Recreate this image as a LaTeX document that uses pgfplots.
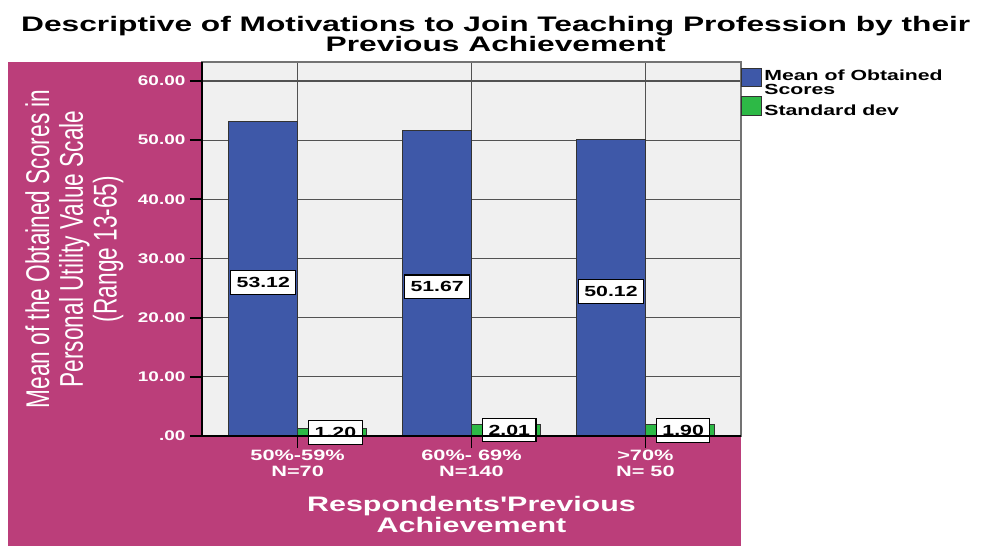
\documentclass[border=0pt]{standalone}
\usepackage{pgfplots}
\pgfplotsset{compat=1.18}
\usepackage{fontspec}
\setmainfont{Liberation Sans}
\definecolor{panel}{RGB}{187,62,122}
\definecolor{plotbg}{RGB}{240,240,240}
\definecolor{barblue}{RGB}{62,88,168}
\definecolor{bargreen}{RGB}{45,185,70}
\newcommand{\wx}[1]{\scalebox{1.45}[1]{#1}}
\newcommand{\wy}[1]{\scalebox{1.35}[1]{#1}}
\newcommand{\wt}[1]{\scalebox{1.51}[1]{#1}}
\pgfplotsset{swatch/.style={legend image code/.code={\draw[##1] (0pt,-3pt) rectangle (15pt,11pt);}}}
\begin{document}
\begin{tikzpicture}
\useasboundingbox (-151.5pt,-82.5pt) rectangle (585pt,327pt);
\fill[panel] (-145.5pt,-82.5pt) rectangle (404.25pt,280.5pt);
\begin{axis}[
  at={(0pt,0pt)}, anchor=south west,
  scale only axis, width=404.25pt, height=280.5pt,
  xmin=-0.55, xmax=2.55, ymin=0, ymax=63.2,
  xtick={0,1,2},
  xticklabels={{\wx{50\%-59\%}\\\wx{N=70}},{\wx{60\%- 69\%}\\\wx{N=140}},{\wx{>70\%}\\\wx{N= 50}}},
  ytick={0,10,20,30,40,50,60},
  yticklabels={\wy{.00},\wy{10.00},\wy{20.00},\wy{30.00},\wy{40.00},\wy{50.00},\wy{60.00}},
  xticklabel style={font=\bfseries\fontsize{11.25}{12}\selectfont, text=white, align=center, yshift=2pt},
  yticklabel style={font=\bfseries\fontsize{10.5}{12}\selectfont, text=white},
  tick pos=left, tick align=outside, major tick length=9pt,
  tick style={black, line width=1.3pt},
  xmajorgrids, ymajorgrids,
  grid style={black!68, line width=0.9pt},
  axis background/.style={fill=plotbg},
  axis line style={draw=black!55, line width=0.9pt},
  title={\wt{Descriptive of Motivations to Join Teaching Profession by their}\\\wt{Previous Achievement}},
  title style={at={(rel axis cs:0.545,1)}, anchor=south, yshift=1.5pt, inner sep=0pt,
    font=\bfseries\fontsize{15.75}{15}\selectfont, align=center},
  xlabel={\wx{Respondents\textquotesingle Previous}\\\wx{Achievement}},
  xlabel style={at={(rel axis cs:0.5,0)}, anchor=north, yshift=-45pt, inner sep=0pt,
    font=\bfseries\fontsize{15.75}{13}\selectfont, align=center, text=white},
  ylabel={\scalebox{1}[1.45]{\fontsize{17}{17}\selectfont\begin{tabular}{@{}c@{}}Mean of the Obtained Scores in\\Personal Utility Value Scale\\(Range 13-65)\end{tabular}}},
  every axis y label/.style={at={(rel axis cs:-0.234,0.5)}, rotate=90, anchor=center, text=white, inner sep=0pt},
  legend style={at={(rel axis cs:1,1)}, anchor=north west, draw=none, fill=none,
    yshift=-4pt, inner sep=0pt, row sep=-1.5pt,
    font=\bfseries\fontsize{11}{10.5}\selectfont, nodes={inner sep=1.5pt, align=left}},
  legend cell align=left,
  after end axis/.code={\draw[black, line width=1.3pt] (rel axis cs:0,1) -- (rel axis cs:0,0) -- (rel axis cs:1,0);},
]
\addplot[ybar, bar width=0.395, bar shift=-0.1975, fill=barblue, draw=black!80, line width=0.8pt, swatch]
  coordinates {(0,53.12) (1,51.67) (2,50.12)};
\addlegendentry{\wx{Mean of Obtained}\\\wx{Scores}}
\addplot[ybar, bar width=0.395, bar shift=0.1975, fill=bargreen, draw=black!80, line width=0.8pt, swatch]
  coordinates {(0,1.20) (1,2.01) (2,1.90)};
\addlegendentry{\wx{Standard dev}}
\addplot[draw=none, mark=none, forget plot, point meta=explicit symbolic,
  nodes near coords={\wx{\pgfplotspointmeta}},
  every node near coord/.append style={anchor=center, fill=white, draw=black, line width=0.8pt,
    text=black, font=\bfseries\fontsize{11}{12}\selectfont, inner xsep=4.5pt, inner ysep=5pt}]
  coordinates {(-0.1975,25.9)[53.12] (0.8025,25.2)[51.67] (1.8025,24.4)[50.12]
               (0.2175,0.6)[1.20] (1.2175,1.0)[2.01] (2.2175,0.95)[1.90]};
\end{axis}
\end{tikzpicture}
\end{document}
